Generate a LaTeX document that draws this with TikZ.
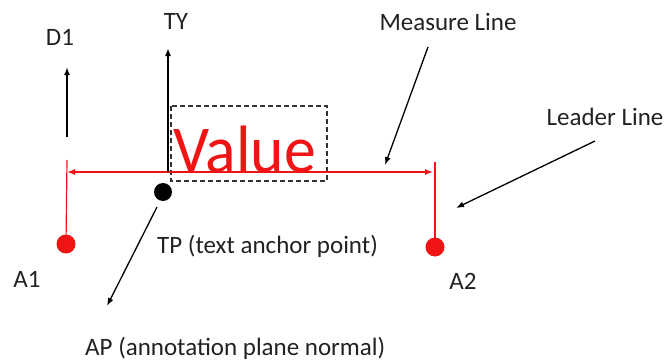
\documentclass[tikz,border=0pt]{standalone}
\usepackage{fontspec}
\setmainfont{Carlito}
\usetikzlibrary{arrows.meta}
\definecolor{txt}{HTML}{222222}
\definecolor{vred}{HTML}{F01414}
\tikzset{
  lbl/.style={font=\fontsize{25}{28}\selectfont, text=txt, inner sep=0pt},
  thinarrow/.style={draw=black, line width=1.3pt, -{Latex[length=8pt,width=6pt]}},
  thickarrow/.style={draw=black, line width=2.4pt, -{Latex[length=8pt,width=6pt]}},
  extline/.style={draw=vred, line width=1.2pt},
  reddot/.style={circle, fill=vred, minimum width=17pt, minimum height=19pt, inner sep=0pt},
  blackdot/.style={circle, fill=black, minimum size=18pt, inner sep=0pt},
}
\begin{document}
\begin{tikzpicture}[x=1pt,y=-1pt]
\useasboundingbox (0,0) rectangle (665,364);
% labels
\node[lbl] (d1) at (60,37) {D1};
\node[lbl] (ty) at (176,21) {TY};
\node[lbl] (meas) at (448,22) {Measure Line};
\node[lbl] (lead) at (605,117) {Leader Line};
\node[lbl, anchor=west] (tp) at (157,246) {TP (text anchor point)};
\node[lbl] (a1) at (27,279) {A1};
\node[lbl] (a2) at (463,281) {A2};
\node[lbl, anchor=west] (ap) at (85,348) {AP (annotation plane normal)};
% dots
\node[reddot] (p1) at (66,244) {};
\node[reddot] (p2) at (435,247) {};
\node[blackdot] (tpd) at (163,192) {};
% coordinates
\coordinate (d1b) at (67,137);
\coordinate (d1t) at (67,67);
\coordinate (tyb) at (168,172);
\coordinate (tyt) at (168,48);
\coordinate (ml) at (67,172);
\coordinate (mr) at (433,172);
\coordinate (e1) at (67,160);
\coordinate (e2) at (435,162);
\coordinate (bx1) at (171,106);
\coordinate (bx2) at (327,181);
\coordinate (mls) at (428,47);
\coordinate (mle) at (385,165);
\coordinate (lls) at (595,141);
\coordinate (lle) at (456,208);
\coordinate (aps) at (157,207);
\coordinate (ape) at (107,306);
% extension lines
\draw[extline] (e1) -- (p1.center);
\draw[extline] (e2) -- (p2.center);
% value box and text
\draw[dashed, draw=black!80, line width=1.1pt, dash pattern=on 5pt off 3pt] (bx1) rectangle (bx2);
\node[anchor=base west, inner sep=0pt, text=vred, font=\fontsize{67}{67}\selectfont] (val) at (173,172) {\scalebox{0.95}[1]{Value}};
% measure line
\draw[draw=vred, line width=1.4pt, {Latex[length=8pt,width=6pt]}-{Latex[length=8pt,width=6pt]}] (ml) -- (mr);
% vectors
\draw[thickarrow] (d1b) -- (d1t);
\draw[thinarrow, line width=1.8pt] (tyb) -- (tyt);
\draw[thinarrow] (mls) -- (mle);
\draw[thinarrow] (lls) -- (lle);
\draw[thinarrow] (aps) -- (ape);
\end{tikzpicture}
\end{document}
